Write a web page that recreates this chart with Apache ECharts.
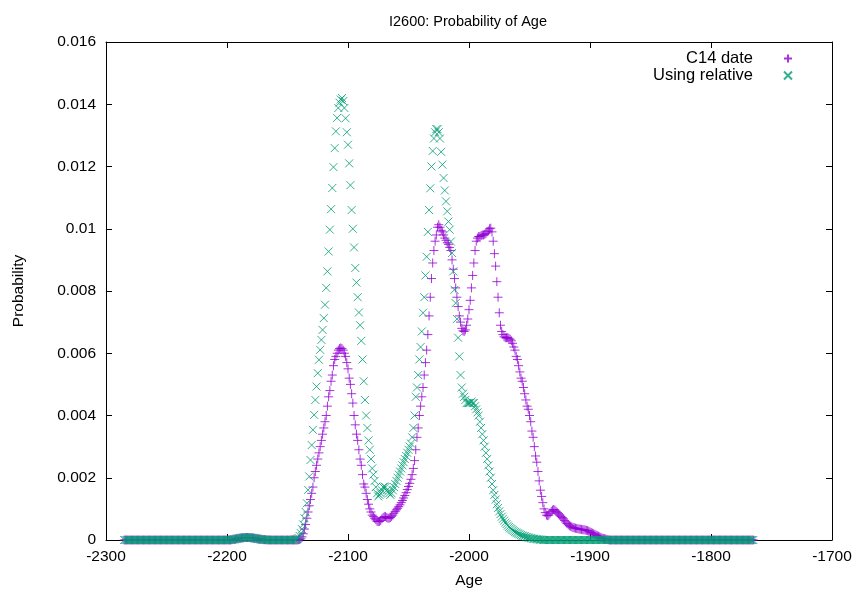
<!DOCTYPE html>
<html><head><meta charset="utf-8">
<script src="https://cdn.jsdelivr.net/npm/echarts@6/dist/echarts.min.js"></script>
<style>html,body{margin:0;padding:0;background:#fff}#c{width:853px;height:593px}</style>
</head><body><div id="c"></div>
<script>
// Years run one per point from firstYear to lastYear
const firstYear = -2285;
const lastYear = -1765;
const xTickValues = [-2300, -2200, -2100, -2000, -1900, -1800, -1700];
const yTickValues = [0, 0.002, 0.004, 0.006, 0.008, 0.01, 0.012, 0.014, 0.016];
const seriesNames = ['C14 date', 'Using relative'];

// Probability, one value per year, rows of 10 starting at the year in the comment
const c14Date = [
/*-2285*/ 0,0,0,0,0,0,0,0,0,0,
/*-2275*/ 0,0,0,0,0,0,0,0,0,0,
/*-2265*/ 0,0,0,0,0,0,0,0,0,0,
/*-2255*/ 0,0,0,0,0,0,0,0,0,0,
/*-2245*/ 0,0,0,0,0,0,0,0,0,0,
/*-2235*/ 0,0,0,0,0,0,0,0,0,0,
/*-2225*/ 0,0,0,0,0,0,0,0,0,0,
/*-2215*/ 0,0,0,0,0,0,0,0,0,0,
/*-2205*/ 0,0,0,0,0,0,0,0,0,.00001,
/*-2195*/ .00002,.00002,.00003,.00004,.00005,.00005,.00006,.00007,.00007,.00008,
/*-2185*/ .00008,.00008,.00008,.00008,.00008,.00007,.00007,.00006,.00005,.00005,
/*-2175*/ .00004,.00003,.00003,.00002,.00002,.00001,.00001,.00001,0,0,
/*-2165*/ 0,0,0,0,0,0,0,0,0,0,
/*-2155*/ 0,0,0,0,0,0,0,0,0,0,
/*-2145*/ 0,0,0,0,.00001,.00002,.00004,.0001,.0002,.00035,
/*-2135*/ .0005,.0007,.0009,.0011,.0013,.0015,.0017,.002,.0022,.0024,
/*-2125*/ .0026,.0028,.003,.0032,.0034,.0036,.0038,.004,.0043,.0046,
/*-2115*/ .0048,.0051,.0053,.0056,.0058,.0059,.006,.0061,.00615,.00617,
/*-2105*/ .00615,.0061,.006,.0059,.0057,.0055,.0052,.005,.0047,.0044,
/*-2095*/ .004,.0037,.0034,.0032,.0029,.0026,.0024,.0021,.0018,.0017,
/*-2085*/ .0015,.0013,.00115,.001,.0009,.0008,.00075,.0007,.00065,.0006,
/*-2075*/ .00059,.0006,.00063,.00068,.00072,.00075,.00075,.00072,.0007,.0007,
/*-2065*/ .00072,.00076,.0008,.00086,.00092,.00097,.00102,.00107,.00113,.0012,
/*-2055*/ .00127,.00135,.00143,.00152,.00162,.00172,.00182,.00195,.0021,.0023,
/*-2045*/ .00255,.0029,.0033,.0036,.004,.0043,.0046,.0049,.0053,.0057,
/*-2035*/ .0061,.0066,.0072,.0078,.0084,.0089,.0093,.0096,.0098,.01005,
/*-2025*/ .01013,.01005,.00995,.0099,.0098,.0097,.00963,.00955,.0095,.0094,
/*-2015*/ .0093,.009,.0087,.0084,.0081,.0078,.0075,.0072,.007,.0068,
/*-2005*/ .00672,.0067,.00675,.0069,.0071,.0074,.0077,.0081,.0085,.0089,
/*-1995*/ .0093,.0096,.0097,.00975,.00975,.00978,.0098,.0098,.00982,.00985,
/*-1985*/ .0099,.00993,.01,.01002,.0099,.0096,.0092,.0088,.0083,.0078,
/*-1975*/ .0073,.0069,.0067,.0066,.00653,.0065,.0065,.0065,.00648,.00645,
/*-1965*/ .0064,.00632,.0062,.0061,.0059,.0058,.0056,.0054,.0052,.0051,
/*-1955*/ .0049,.0047,.0045,.0043,.0042,.004,.0038,.0035,.0033,.003,
/*-1945*/ .0027,.0025,.0022,.0019,.0016,.0014,.0012,.001,.00088,.0008,
/*-1935*/ .00078,.0008,.00086,.00092,.00096,.00098,.00096,.00092,.00088,.00084,
/*-1925*/ .0008,.00076,.00072,.00068,.00063,.00058,.00053,.00049,.00046,.00044,
/*-1915*/ .00042,.0004,.00039,.00038,.00037,.00036,.00035,.00035,.00034,.00033,
/*-1905*/ .00033,.00032,.00031,.0003,.00028,.00026,.00024,.00022,.0002,.00018,
/*-1895*/ .00016,.00014,.00012,.0001,.00008,.00006,.00005,.00004,.00003,.00002,
/*-1885*/ .00001,0,0,0,0,0,0,0,0,0,
/*-1875*/ 0,0,0,0,0,0,0,0,0,0,
/*-1865*/ 0,0,0,0,0,0,0,0,0,0,
/*-1855*/ 0,0,0,0,0,0,0,0,0,0,
/*-1845*/ 0,0,0,0,0,0,0,0,0,0,
/*-1835*/ 0,0,0,0,0,0,0,0,0,0,
/*-1825*/ 0,0,0,0,0,0,0,0,0,0,
/*-1815*/ 0,0,0,0,0,0,0,0,0,0,
/*-1805*/ 0,0,0,0,0,0,0,0,0,0,
/*-1795*/ 0,0,0,0,0,0,0,0,0,0,
/*-1785*/ 0,0,0,0,0,0,0,0,0,0,
/*-1775*/ 0,0,0,0,0,0,0,0,0,0,
/*-1765*/ 0
];

const usingRelative = [
/*-2285*/ 0,0,0,0,0,0,0,0,0,0,
/*-2275*/ 0,0,0,0,0,0,0,0,0,0,
/*-2265*/ 0,0,0,0,0,0,0,0,0,0,
/*-2255*/ 0,0,0,0,0,0,0,0,0,0,
/*-2245*/ 0,0,0,0,0,0,0,0,0,0,
/*-2235*/ 0,0,0,0,0,0,0,0,0,0,
/*-2225*/ 0,0,0,0,0,0,0,0,0,0,
/*-2215*/ 0,0,0,0,0,0,0,0,0,0,
/*-2205*/ 0,0,0,0,0,0,0,0,0,.00001,
/*-2195*/ .00002,.00002,.00003,.00004,.00005,.00005,.00006,.00007,.00007,.00008,
/*-2185*/ .00008,.00008,.00008,.00008,.00008,.00007,.00007,.00006,.00005,.00005,
/*-2175*/ .00004,.00003,.00003,.00002,.00002,.00001,.00001,.00001,0,0,
/*-2165*/ 0,0,0,0,0,0,0,0,0,0,
/*-2155*/ 0,0,0,0,0,0,0,0,0,0,
/*-2145*/ 0,.00001,.00002,.00004,.00007,.00013,.00022,.00035,.0005,.0007,
/*-2135*/ .0009,.00118,.00161,.00204,.00257,.00305,.00354,.00402,.0045,.00493,
/*-2125*/ .00536,.00579,.00611,.00643,.00675,.00713,.00756,.0081,.00863,.00927,
/*-2115*/ .00997,.01063,.01131,.01198,.01259,.01313,.01356,.01388,.01405,.01415,
/*-2105*/ .0142,.0141,.01388,.01355,.0131,.0127,.0121,.0114,.0106,.01,
/*-2095*/ .0094,.00874,.00827,.0078,.00731,.0069,.0064,.0058,.0051,.0045,
/*-2085*/ .004,.0036,.0032,.0029,.0026,.0023,.0021,.0019,.0017,.0015,
/*-2075*/ .0014,.00145,.0015,.0016,.0017,.00172,.0017,.0016,.00155,.0015,
/*-2065*/ .00145,.0015,.0016,.0017,.0018,.0019,.002,.0021,.0022,.0023,
/*-2055*/ .0024,.0025,.0026,.0027,.0028,.0029,.003,.0031,.0033,.0036,
/*-2045*/ .004,.0046,.0049,.0053,.0058,.0062,.0067,.0073,.0078,.0085,
/*-2035*/ .0091,.0099,.0106,.0113,.012,.0125,.0129,.0131,.0132,.0132,
/*-2025*/ .0131,.0129,.01247,.01206,.01163,.01123,.01088,.01056,.01023,.00997,
/*-2015*/ .00959,.00922,.00863,.00804,.00761,.0071,.0065,.0059,.0053,.0049,
/*-2005*/ .0047,.0046,.0045,.0044,.0044,.0044,.0044,.00445,.0044,.0044,
/*-1995*/ .0043,.0042,.0041,.004,.0038,.0036,.0034,.0032,.003,.0028,
/*-1985*/ .0026,.0024,.0022,.002,.0018,.0016,.00145,.0013,.00115,.00103,
/*-1975*/ .00092,.00083,.00075,.00068,.00062,.00056,.00051,.00046,.00042,.00038,
/*-1965*/ .00035,.00032,.00029,.00026,.00024,.00022,.0002,.00018,.00016,.00014,
/*-1955*/ .00013,.00012,.0001,.00009,.00008,.00007,.00006,.00005,.00004,.00004,
/*-1945*/ .00003,.00003,.00002,.00002,.00001,.00001,0,0,0,0,
/*-1935*/ 0,0,0,0,0,0,0,0,0,0,
/*-1925*/ 0,0,0,0,0,0,0,0,0,0,
/*-1915*/ 0,0,0,0,0,0,0,0,0,0,
/*-1905*/ 0,0,0,0,0,0,0,0,0,0,
/*-1895*/ 0,0,0,0,0,0,0,0,0,0,
/*-1885*/ 0,0,0,0,0,0,0,0,0,0,
/*-1875*/ 0,0,0,0,0,0,0,0,0,0,
/*-1865*/ 0,0,0,0,0,0,0,0,0,0,
/*-1855*/ 0,0,0,0,0,0,0,0,0,0,
/*-1845*/ 0,0,0,0,0,0,0,0,0,0,
/*-1835*/ 0,0,0,0,0,0,0,0,0,0,
/*-1825*/ 0,0,0,0,0,0,0,0,0,0,
/*-1815*/ 0,0,0,0,0,0,0,0,0,0,
/*-1805*/ 0,0,0,0,0,0,0,0,0,0,
/*-1795*/ 0,0,0,0,0,0,0,0,0,0,
/*-1785*/ 0,0,0,0,0,0,0,0,0,0,
/*-1775*/ 0,0,0,0,0,0,0,0,0,0,
/*-1765*/ 0
];

const years = [];
for (let y = firstYear; y <= lastYear; y++) years.push(y);
const pairs = vals => years.map((y, i) => [y, vals[i]]);

const FONT = "'Liberation Sans', Arial, Helvetica, sans-serif";
const PURPLE = '#9400d3';
const GREEN = '#009e73';
const PLUS = 'path://M0,5H10M5,0V10';
const CROSS = 'path://M0,0L10,10M10,0L0,10';
const LABEL_SIZE = 15.5;

const chart = echarts.init(document.getElementById('c'), null, {renderer: 'canvas'});

const xBase = {
  type: 'value', min: xTickValues[0], max: xTickValues[xTickValues.length - 1], interval: 100,
  splitLine: {show: false},
  axisLine: {show: true, onZero: false, lineStyle: {color: '#000', width: 1}},
  axisTick: {show: true, inside: true, length: 6, lineStyle: {color: '#000'}}
};
const yBase = {
  type: 'value', min: yTickValues[0], max: yTickValues[yTickValues.length - 1], interval: 0.002,
  splitLine: {show: false},
  axisLine: {show: true, onZero: false, lineStyle: {color: '#000', width: 1}},
  axisTick: {show: true, inside: true, length: 6, lineStyle: {color: '#000'}}
};

chart.setOption({
  animation: false,
  backgroundColor: '#fff',
  textStyle: {fontFamily: FONT},
  title: {
    text: 'I2600: Probability of Age', left: 463, top: 9, textAlign: 'center',
    textStyle: {fontFamily: FONT, fontSize: 14.5, fontWeight: 'normal', color: '#000'}
  },
  grid: {left: 106, right: 21, top: 42, bottom: 53, containLabel: false, outerBoundsMode: 'none'},
  legend: {
    orient: 'vertical', right: 60, top: 50, padding: 0, itemGap: 0, align: 'right',
    itemWidth: 60, itemHeight: 8, symbolKeepAspect: true,
    textStyle: {fontFamily: FONT, fontSize: 16.5, lineHeight: 17, color: '#000'},
    data: seriesNames
  },
  xAxis: [
    Object.assign({}, xBase, {
      position: 'bottom', name: 'Age', nameLocation: 'middle', nameGap: 33,
      nameTextStyle: {fontFamily: FONT, fontSize: LABEL_SIZE, color: '#000'},
      axisLabel: {show: true, margin: 9, fontFamily: FONT, fontSize: LABEL_SIZE, color: '#000', formatter: v => String(v)}
    }),
    Object.assign({}, xBase, {position: 'top', axisLabel: {show: false}})
  ],
  yAxis: [
    Object.assign({}, yBase, {
      position: 'left', name: 'Probability', nameLocation: 'middle', nameGap: 79,
      nameTextStyle: {fontFamily: FONT, fontSize: LABEL_SIZE, color: '#000'},
      axisLabel: {show: true, margin: 10, fontFamily: FONT, fontSize: LABEL_SIZE, color: '#000',
        formatter: v => String(+(+v).toFixed(3))}
    }),
    Object.assign({}, yBase, {position: 'right', axisLabel: {show: false}})
  ],
  series: [
    {
      name: seriesNames[0], type: 'scatter', xAxisIndex: 0, yAxisIndex: 0,
      symbol: PLUS, symbolSize: 9,
      itemStyle: {color: 'rgba(0,0,0,0)', borderColor: PURPLE, borderWidth: 1},
      data: pairs(c14Date)
    },
    {
      name: seriesNames[1], type: 'scatter', xAxisIndex: 0, yAxisIndex: 0,
      symbol: CROSS, symbolSize: 8,
      itemStyle: {color: 'rgba(0,0,0,0)', borderColor: GREEN, borderWidth: 1},
      data: pairs(usingRelative)
    }
  ]
});
</script>
</body></html>
